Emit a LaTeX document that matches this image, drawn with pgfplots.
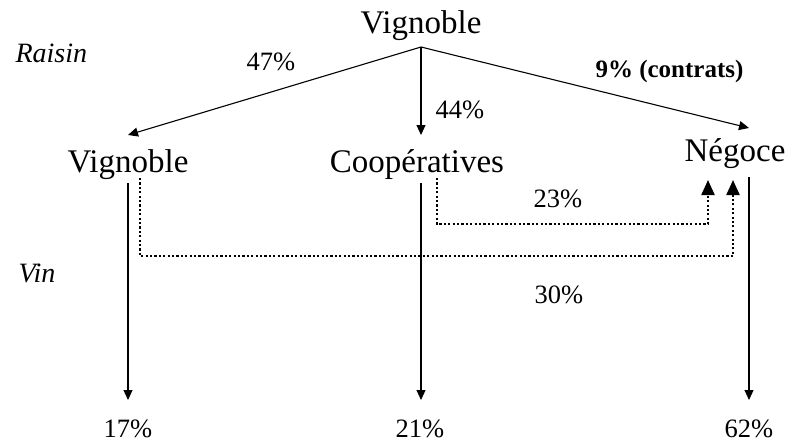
\documentclass[border=0pt]{standalone}
\usepackage{pgfplots}
\pgfplotsset{compat=1.18}
\usepackage{fontspec}
\setmainfont{Liberation Serif}
\usetikzlibrary{arrows.meta}
\begin{document}
\begin{tikzpicture}
\begin{axis}[
  width=792pt, height=442pt, scale only axis,
  xmin=0, xmax=792, ymin=0, ymax=442, y dir=reverse,
  hide axis, clip=false,
  every axis plot/.append style={black},
  every node/.append style={inner sep=0pt},
]
% invisible frame points to fix the picture size
\addplot[draw=none, forget plot] coordinates {(0,0) (792,442)};
% solid arrows from the top Vignoble
\addplot[line width=1.1pt, -{Triangle[length=10pt,width=9pt]}] coordinates {(421,47) (128,135)};
\addplot[line width=1.1pt, -{Triangle[length=10pt,width=9pt]}] coordinates {(421,47) (421,135)};
\addplot[line width=1.1pt, -{Triangle[length=10pt,width=9pt]}] coordinates {(421,47) (749,128)};
% vertical solid arrows to wine shares
\addplot[line width=1.1pt, -{Triangle[length=10pt,width=9pt]}] coordinates {(128,183) (128,400)};
\addplot[line width=1.1pt, -{Triangle[length=10pt,width=9pt]}] coordinates {(421,183) (421,400)};
\addplot[line width=1.1pt, -{Triangle[length=10pt,width=9pt]}] coordinates {(749,177) (749,400)};
% dotted arrows to Negoce
\addplot[line width=2.1pt, dash pattern=on 2.1pt off 2.3pt, -{Triangle[length=15pt,width=13pt]}] coordinates {(140,178) (140,256) (733,256) (733,180)};
\addplot[line width=2.1pt, dash pattern=on 2.1pt off 2.3pt, -{Triangle[length=15pt,width=13pt]}] coordinates {(437,178) (437,224) (708,224) (708,180)};
% texts
\node[anchor=base, font=\fontsize{33}{38}\selectfont] at (axis cs:421,33) {Vignoble};
\node[anchor=base, font=\fontsize{33}{38}\selectfont] at (axis cs:128,172) {Vignoble};
\node[anchor=base, font=\fontsize{33}{38}\selectfont] at (axis cs:417,172) {Coopératives};
\node[anchor=base, font=\fontsize{33}{38}\selectfont] at (axis cs:735,161) {Négoce};
\node[anchor=base west, font=\fontsize{28}{32}\selectfont\itshape] at (axis cs:12,62) {Raisin};
\node[anchor=base west, font=\fontsize{28}{32}\selectfont\itshape] at (axis cs:15,282) {Vin};
\node[anchor=base, font=\fontsize{26.5}{30}\selectfont] at (axis cs:271,70) {47\%};
\node[anchor=base west, font=\fontsize{26.5}{30}\selectfont] at (axis cs:432,118) {44\%};
\node[anchor=base west, font=\fontsize{25}{29}\selectfont\bfseries] at (axis cs:592,77) {9\% (contrats)};
\node[anchor=base, font=\fontsize{26.5}{30}\selectfont] at (axis cs:558,207) {23\%};
\node[anchor=base, font=\fontsize{26.5}{30}\selectfont] at (axis cs:559,303) {30\%};
\node[anchor=base, font=\fontsize{26.5}{30}\selectfont] at (axis cs:128,437) {17\%};
\node[anchor=base, font=\fontsize{26.5}{30}\selectfont] at (axis cs:420,437) {21\%};
\node[anchor=base, font=\fontsize{26.5}{30}\selectfont] at (axis cs:749,437) {62\%};
\end{axis}
\end{tikzpicture}
\end{document}
